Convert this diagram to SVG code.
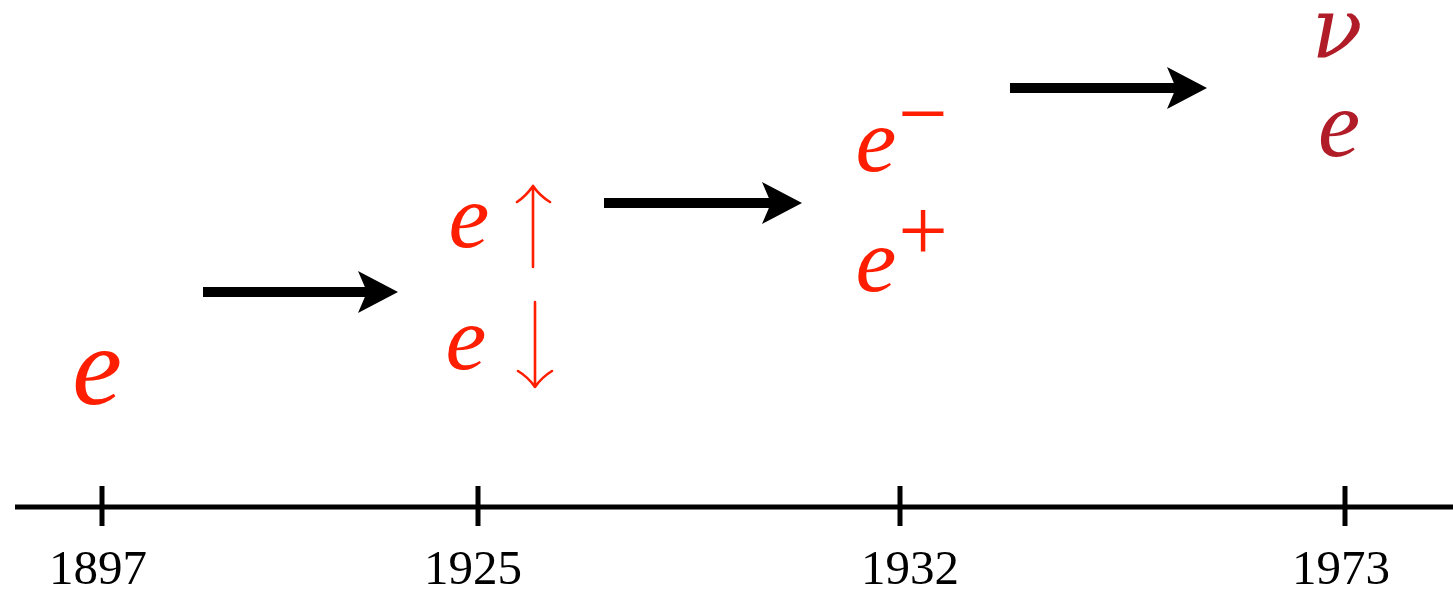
<svg xmlns="http://www.w3.org/2000/svg" width="1453" height="595" viewBox="0 0 1453 595">
<style>
.year{font-family:"Liberation Serif","Times New Roman",serif;font-size:49px;fill:#000;text-anchor:middle}
.sym{font-family:"Liberation Serif","Times New Roman",serif;font-style:italic;fill:#ff1e00;text-anchor:middle}
.nu{font-family:"DejaVu Serif",serif;font-style:italic;text-anchor:middle}
.sup{font-family:"Liberation Serif","Times New Roman",serif;fill:#ff1e00;text-anchor:middle;font-size:88px}
.dark{fill:#b01c28}
.axis{stroke:#000;stroke-width:5;fill:none}
.tick{stroke:#000;stroke-width:5;fill:none}
.shaft{stroke:#000;stroke-width:10;fill:none}
.spin{stroke:#ff1e00;stroke-width:2.6;fill:none;stroke-linecap:round}
</style>
<rect width="1453" height="595" fill="#fff"/>
<g id="axis">
<line class="axis" x1="15" y1="507" x2="1453" y2="507"/>
<line class="tick" x1="102" y1="486" x2="102" y2="526"/>
<line class="tick" x1="478" y1="486" x2="478" y2="526"/>
<line class="tick" x1="900" y1="486" x2="900" y2="526"/>
<line class="tick" x1="1345" y1="486" x2="1345" y2="526"/>
<text class="year" x="98" y="584">1897</text>
<text class="year" x="473" y="584">1925</text>
<text class="year" x="910" y="584">1932</text>
<text class="year" x="1341" y="584">1973</text>
</g>
<g id="node-1897">
<text class="sym" x="97" y="404" font-size="112">e</text>
</g>
<g id="node-1925">
<text class="sym" x="469" y="247" font-size="92">e</text>
<path class="spin" d="M533 267 V186 M533 186 Q526 196 517 202 M533 186 Q540 196 550 202"/>
<text class="sym" x="466" y="369" font-size="92">e</text>
<path class="spin" d="M535 302 V387 M535 387 Q528 377 518 371 M535 387 Q542 377 552 371"/>
</g>
<g id="node-1932">
<text class="sym" x="876" y="171" font-size="92">e</text>
<text class="sup" x="923" y="143">−</text>
<text class="sym" x="876" y="291" font-size="92">e</text>
<text class="sup" x="923" y="260">+</text>
</g>
<g id="node-1973">
<text class="nu dark" x="1337" y="57" font-size="84">ν</text>
<text class="sym dark" x="1339" y="156" font-size="95">e</text>
</g>
<g id="connectors">
<line class="shaft" x1="203" y1="292" x2="370" y2="292"/>
<path d="M398 292 L358 271 L367 292 L358 313 Z" fill="#000"/>
<line class="shaft" x1="604" y1="203" x2="774" y2="203"/>
<path d="M802 203 L762 182 L771 203 L762 224 Z" fill="#000"/>
<line class="shaft" x1="1010" y1="88" x2="1179" y2="88"/>
<path d="M1207 88 L1167 67 L1176 88 L1167 109 Z" fill="#000"/>
</g>
</svg>
